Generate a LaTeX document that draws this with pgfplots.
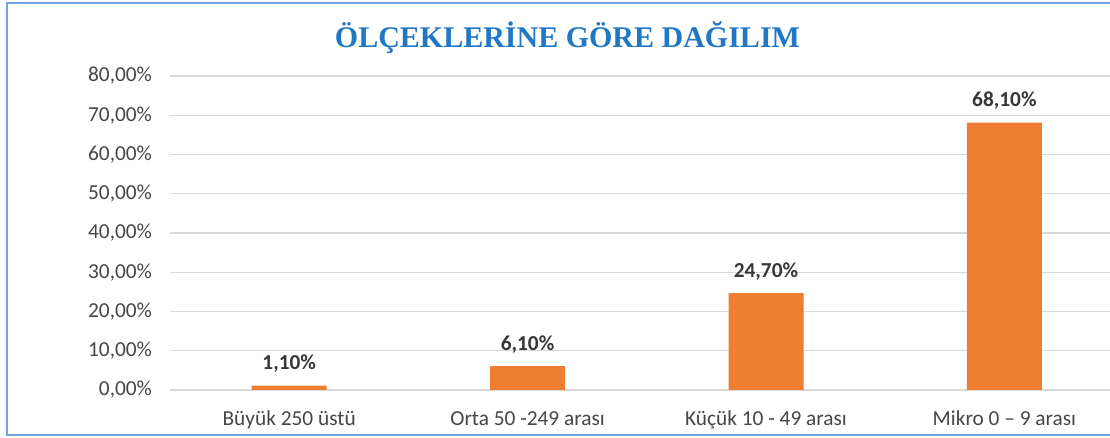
\documentclass[border=0pt]{standalone}
\usepackage{fontspec}
\setmainfont{Carlito}
\newfontfamily\titlefont{Liberation Serif}
\usepackage{pgfplots}
\pgfplotsset{compat=1.18}
\definecolor{barorange}{RGB}{237,125,49}
\definecolor{gridgray}{RGB}{217,217,217}
\definecolor{txtgray}{RGB}{70,70,70}
\definecolor{lblgray}{RGB}{55,55,55}
\definecolor{titleblue}{RGB}{31,119,198}
\definecolor{borderblue}{RGB}{115,163,222}
\begin{document}
\begin{tikzpicture}
\useasboundingbox (0pt,0pt) rectangle (832.5pt,328.5pt);
\fill[white] (0pt,0pt) rectangle (832.5pt,328.5pt);
\draw[borderblue, line width=2pt] (5.25pt,2.25pt) rectangle (850pt,326.25pt);
\node[anchor=base, text=titleblue, font=\titlefont\bfseries\fontsize{22.5}{27}\selectfont] at (425.6pt,292.5pt) {ÖLÇEKLERİNE GÖRE DAĞILIM};
\begin{axis}[
  at={(127.5pt,36pt)}, anchor=south west,
  scale only axis, width=705pt, height=235.5pt,
  xmin=-0.5, xmax=3.443, ymin=0, ymax=80,
  axis line style={draw=none},
  major tick length=0pt,
  ymajorgrids, grid style={gridgray, line width=1.1pt},
  ytick={0,10,20,30,40,50,60,70,80},
  yticklabels={{0,00\%},{10,00\%},{20,00\%},{30,00\%},{40,00\%},{50,00\%},{60,00\%},{70,00\%},{80,00\%}},
  xtick={0,1,2,3},
  xticklabels={Büyük 250 üstü, Orta 50 -249 arası, Küçük 10 - 49 arası, Mikro 0 – 9 arası},
  tick label style={font=\fontsize{16}{19}\selectfont, text=txtgray},
  yticklabel style={anchor=east, xshift=-10pt},
  xticklabel style={anchor=base, yshift=-27pt},
  ybar, bar width=56.25pt,
  point meta=explicit symbolic,
  nodes near coords,
  nodes near coords style={anchor=base, yshift=12pt, font=\bfseries\fontsize{16}{19}\selectfont, text=lblgray},
]
\addplot[fill=barorange, draw=none] coordinates {
  (0,1.1) [1,10\%]
  (1,6.1) [6,10\%]
  (2,24.7) [24,70\%]
  (3,68.1) [68,10\%]
};
\end{axis}
\end{tikzpicture}
\end{document}
